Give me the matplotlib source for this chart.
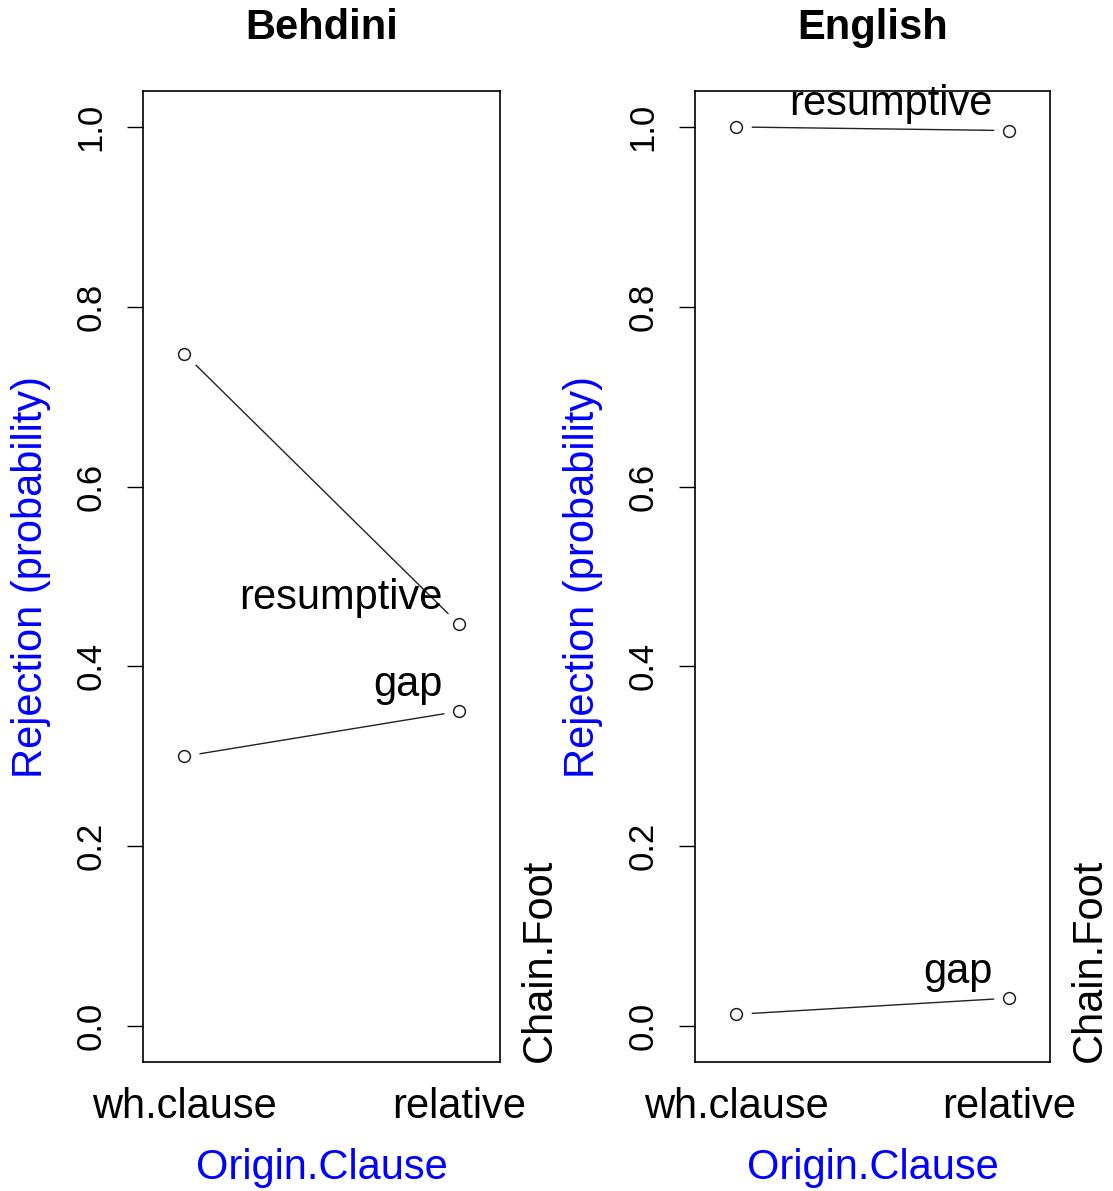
import matplotlib
matplotlib.use("Agg")
import matplotlib.pyplot as plt

plt.rcParams['font.family'] = ['Liberation Sans', 'DejaVu Sans']

# Rejection probabilities by origin clause and chain foot
clause_levels = ["wh.clause", "relative"]
panel_titles = ["Behdini", "English"]
behdini_resumptive = [0.748, 0.447]
behdini_gap = [0.300, 0.350]
english_resumptive = [1.000, 0.996]
english_gap = [0.013, 0.031]
y_ticks = [0.0, 0.2, 0.4, 0.6, 0.8, 1.0]

series = {
    "Behdini": {"resumptive": behdini_resumptive, "gap": behdini_gap},
    "English": {"resumptive": english_resumptive, "gap": english_gap},
}

W, H = 1113, 1191
fig = plt.figure(figsize=(W / 100, H / 100), dpi=100)

# panel boxes in pixels: (left, right)
boxes = [(143, 500), (695, 1050)]
box_top, box_bot = 91, 1062
blue = "#0000FF"

for (left, right), title in zip(boxes, panel_titles):
    ax = fig.add_axes([left / W, 1 - box_bot / H, (right - left) / W, (box_bot - box_top) / H])
    x = [1, 2]
    for name, vals in series[title].items():
        ax.plot(x, vals, color="#222222", lw=1.0, zorder=2)
        # white halo leaves a gap between line and point, like type="b"
        ax.plot(x, vals, ls="none", marker="o", ms=22, mfc="white", mec="none", zorder=3)
        ax.plot(x, vals, ls="none", marker="o", ms=8.5, mfc="white", mec="#222222",
                mew=1.1, zorder=4)
        ax.text(1.94, vals[1] + 0.029, name, ha="right", va="center", fontsize=30, zorder=5)

    ax.set_xlim(0.85, 2.15)
    ax.set_ylim(-0.04, 1.04)
    ax.set_xticks(x)
    ax.set_xticklabels(clause_levels, fontsize=30)
    ax.set_yticks(y_ticks)
    ax.set_yticklabels([f"{v:.1f}" for v in y_ticks], fontsize=25, rotation=90, va="center")
    ax.tick_params(axis="x", length=0, pad=18)
    ax.tick_params(axis="y", length=11.5, width=1.0, pad=14)
    for sp in ax.spines.values():
        sp.set_linewidth(1.2)

    cx = (left + right) / 2
    ax.text(0.5, 1 + (box_top - 28) / (box_bot - box_top), title, transform=ax.transAxes,
            ha="center", va="center", fontsize=30, fontweight="bold")
    ax.text(1 + 40 / (right - left), 0, "Chain.Foot", transform=ax.transAxes,
            rotation=90, ha="center", va="bottom", fontsize=30)
    fig.text(cx / W, 1 - 1168 / H, "Origin.Clause", ha="center", va="center",
             fontsize=30, color=blue)
    fig.text((left - 112) / W, 1 - 577 / H, "Rejection (probability)", ha="center",
             va="center", rotation=90, fontsize=30, color=blue)

fig.savefig("out.png", dpi=100)
